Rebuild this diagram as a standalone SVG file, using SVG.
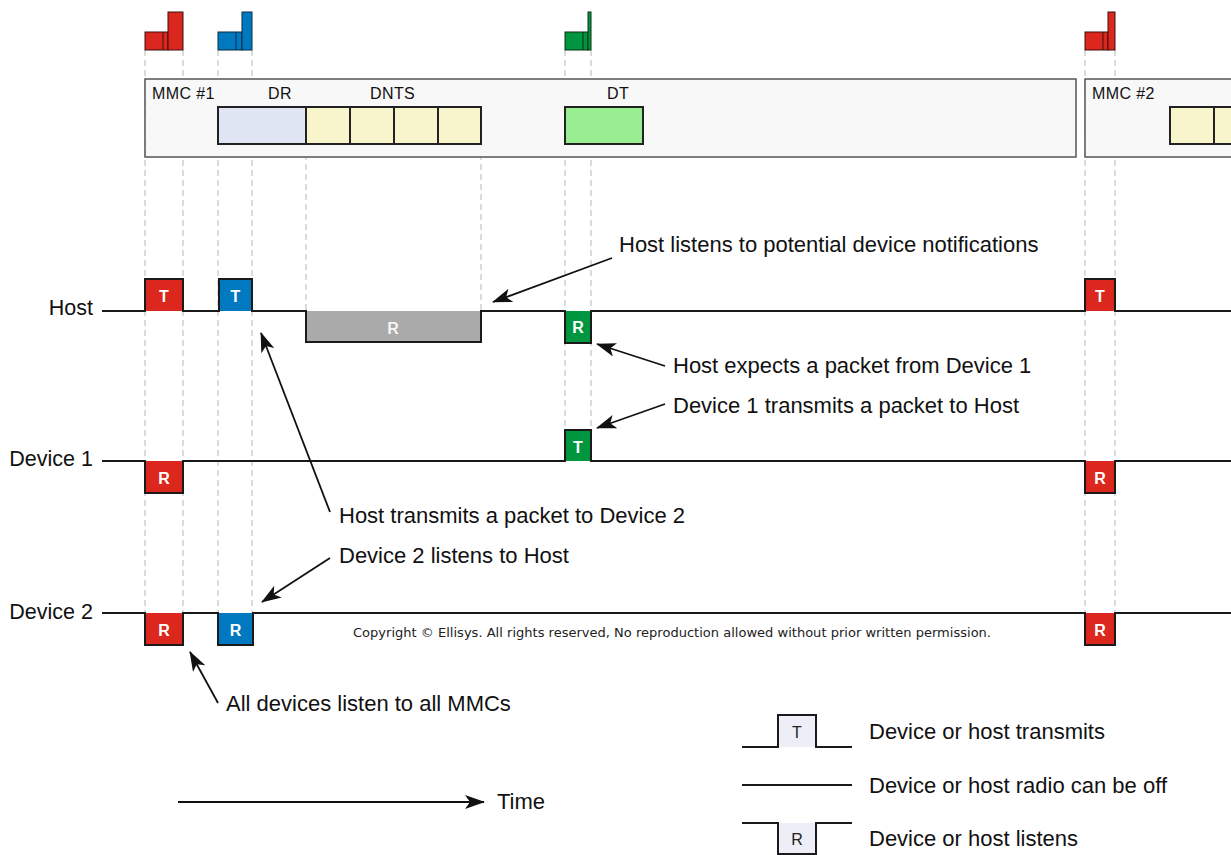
<svg xmlns="http://www.w3.org/2000/svg" width="1231" height="855" viewBox="0 0 1231 855">
<defs>
<marker id="ah" markerWidth="20" markerHeight="14" refX="19" refY="7" orient="auto" markerUnits="userSpaceOnUse">
<path d="M0,0 L20,7 L0,14 L5,7 Z" fill="#111"/>
</marker>
<style>
.lbl{font-family:"Liberation Sans",Arial,sans-serif;font-size:22px;fill:#111}
.ln{font-family:"Liberation Sans",Arial,sans-serif;font-size:21.5px;fill:#111;text-anchor:end}
.sm{font-family:"Liberation Sans",Arial,sans-serif;font-size:16px;letter-spacing:0.4px;fill:#111}
.bx{font-family:"Liberation Sans",Arial,sans-serif;font-size:16px;font-weight:bold;fill:#fff;text-anchor:middle}
.lg{font-family:"Liberation Sans",Arial,sans-serif;font-size:16px;fill:#222;text-anchor:middle}
.dash{stroke:#b8b8b8;stroke-width:1;stroke-dasharray:6,4;fill:none}
.wave{stroke:#1a1a1a;stroke-width:2;fill:none}
.ic{stroke:#3a1010;stroke-width:1}
.red{fill:#dc271e}
.blue{fill:#0079c1}
.green{fill:#00953f}
.arr{stroke:#111;stroke-width:1.8;fill:none;marker-end:url(#ah)}
.slot{stroke:#222;stroke-width:2}
</style>
</defs>
<rect width="1231" height="855" fill="#fff"/>

<g id="guides">
<path class="dash" d="M145,50V645M183,50V645M218,50V645M252,50V645M306,144V311M481,144V311M565,50V430M591,50V430M1085,50V645M1115,50V645"/>
</g>

<g id="icons">
<g id="icon-mmc1">
<rect class="red ic" x="145" y="32" width="23" height="18"/><line class="ic" x1="163" y1="32" x2="163" y2="50"/>
<rect class="red ic" x="168" y="12" width="15" height="38"/>
</g>
<g id="icon-dr">
<rect class="blue ic" x="218" y="32" width="24" height="18" style="stroke:#0a2a40"/><line x1="236" y1="32" x2="236" y2="50" stroke="#0a2a40"/>
<rect class="blue ic" x="242" y="12" width="10" height="38" style="stroke:#0a2a40"/>
</g>
<g id="icon-dt">
<rect class="green ic" x="565" y="32" width="23" height="18" style="stroke:#0a3015"/><line x1="583" y1="32" x2="583" y2="50" stroke="#0a3015"/>
<rect class="green ic" x="588" y="12" width="3" height="38" style="stroke:#0a3015"/>
</g>
<g id="icon-mmc2">
<rect class="red ic" x="1085" y="32" width="23" height="18"/><line class="ic" x1="1103" y1="32" x2="1103" y2="50"/>
<rect class="red ic" x="1108" y="12" width="7" height="38"/>
</g>
</g>

<g id="superframe1">
<rect x="145" y="79" width="931" height="78" fill="#f8f8f8" stroke="#555" stroke-width="1.5"/>
<text class="sm" x="152" y="99">MMC #1</text>
<text class="sm" x="268" y="99">DR</text>
<text class="sm" x="370" y="99">DNTS</text>
<text class="sm" x="607" y="99">DT</text>
<rect class="slot" x="218" y="107" width="88" height="37" fill="#dfe5f2"/>
<rect class="slot" x="306" y="107" width="44" height="37" fill="#f8f5cc"/>
<rect class="slot" x="350" y="107" width="44" height="37" fill="#f8f5cc"/>
<rect class="slot" x="394" y="107" width="44" height="37" fill="#f8f5cc"/>
<rect class="slot" x="438" y="107" width="43" height="37" fill="#f8f5cc"/>
<rect class="slot" x="565" y="107" width="78" height="37" fill="#98ee90"/>
</g>
<g id="superframe2">
<rect x="1085" y="79" width="160" height="78" fill="#f8f8f8" stroke="#555" stroke-width="1.5"/>
<text class="sm" x="1092" y="99">MMC #2</text>
<rect class="slot" x="1170" y="107" width="44" height="37" fill="#f8f5cc"/>
<rect class="slot" x="1214" y="107" width="44" height="37" fill="#f8f5cc"/>
</g>

<g id="host">
<text class="ln" x="93" y="315">Host</text>
<rect class="red" x="145" y="279" width="38" height="32"/>
<rect class="blue" x="219" y="279" width="33" height="32"/>
<rect x="306" y="311" width="175" height="31" fill="#aaaaaa"/>
<rect class="green" x="565" y="311" width="26" height="32"/>
<rect class="red" x="1085" y="279" width="30" height="32"/>
<path class="wave" d="M102,311H145V279H183V311H219V279H252V311H306V342H481V311H565V343H591V311H1085V279H1115V311H1231"/>
<text class="bx" x="164" y="302">T</text>
<text class="bx" x="235.5" y="302">T</text>
<text class="bx" x="393" y="334" style="fill:#f4f4f4">R</text>
<text class="bx" x="578" y="333">R</text>
<text class="bx" x="1100" y="302">T</text>
</g>

<g id="device1">
<text class="ln" x="93" y="466">Device 1</text>
<rect class="red" x="145" y="461" width="38" height="32"/>
<rect class="green" x="565" y="430" width="26" height="31"/>
<rect class="red" x="1085" y="461" width="30" height="32"/>
<path class="wave" d="M102,461H145V493H183V461H565V430H591V461H1085V493H1115V461H1231"/>
<text class="bx" x="164" y="484">R</text>
<text class="bx" x="578" y="453">T</text>
<text class="bx" x="1100" y="484">R</text>
</g>

<g id="device2">
<text class="ln" x="93" y="619">Device 2</text>
<rect class="red" x="145" y="613" width="38" height="32"/>
<rect class="blue" x="218" y="613" width="35" height="32"/>
<rect class="red" x="1085" y="613" width="30" height="32"/>
<path class="wave" d="M102,613H145V645H183V613H218V645H253V613H1085V645H1115V613H1231"/>
<text class="bx" x="164" y="636">R</text>
<text class="bx" x="235.5" y="636">R</text>
<text class="bx" x="1100" y="636">R</text>
</g>

<g id="connectors">
<line class="arr" x1="612" y1="258" x2="493" y2="302"/>
<line class="arr" x1="665" y1="366" x2="597" y2="344"/>
<line class="arr" x1="665" y1="404" x2="597" y2="428"/>
<line class="arr" x1="330" y1="512" x2="261" y2="333"/>
<line class="arr" x1="330" y1="558" x2="262" y2="602"/>
<line class="arr" x1="218" y1="703" x2="190" y2="652"/>
<line class="arr" x1="178" y1="802" x2="484" y2="802"/>
</g>

<g id="annotations">
<text class="lbl" x="619" y="252">Host listens to potential device notifications</text>
<text class="lbl" x="673" y="373">Host expects a packet from Device 1</text>
<text class="lbl" x="673" y="413">Device 1 transmits a packet to Host</text>
<text class="lbl" x="339" y="523">Host transmits a packet to Device 2</text>
<text class="lbl" x="339" y="563">Device 2 listens to Host</text>
<text class="lbl" x="226" y="711">All devices listen to all MMCs</text>
<text class="lbl" x="497" y="809">Time</text>
<text x="353" y="637" textLength="638" style="font-family:'DejaVu Sans',Verdana,sans-serif;font-size:13px;fill:#222">Copyright © Ellisys. All rights reserved, No reproduction allowed without prior written permission.</text>
</g>

<g id="legend">
<rect x="778" y="715" width="38" height="32" fill="#eeeef8"/>
<path class="wave" d="M742,747H778V715H816V747H852"/>
<text class="lg" x="797" y="738">T</text>
<line class="wave" x1="742" y1="785" x2="852" y2="785"/>
<rect x="778" y="823" width="38" height="31" fill="#eeeef8"/>
<path class="wave" d="M742,823H778V854H816V823H852"/>
<text class="lg" x="797" y="845">R</text>
<text class="lbl" x="869" y="739">Device or host transmits</text>
<text class="lbl" x="869" y="793">Device or host radio can be off</text>
<text class="lbl" x="869" y="846">Device or host listens</text>
</g>
</svg>
